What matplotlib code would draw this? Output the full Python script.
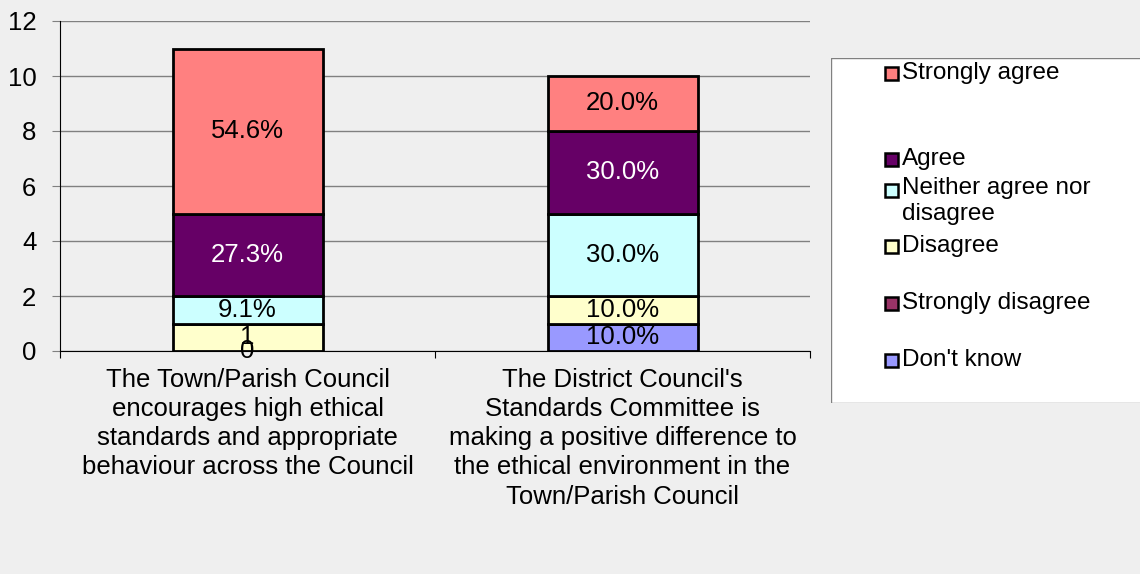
import numpy as np
import matplotlib
matplotlib.use("Agg")
import matplotlib.pyplot as plt
from matplotlib.patches import Rectangle

plt.rcParams['font.family'] = ['Liberation Sans', 'DejaVu Sans']

categories = ["The Town/Parish Council\nencourages high ethical\nstandards and appropriate\nbehaviour across the Council",
              "The District Council's\nStandards Committee is\nmaking a positive difference to\nthe ethical environment in the\nTown/Parish Council"]
# stacked bottom -> top
series = ["Don't know", "Strongly disagree", "Disagree", "Neither agree nor\ndisagree", "Agree", "Strongly agree"]
values = [[0, 1],
          [0, 0],
          [1, 1],
          [1, 3],
          [3, 3],
          [6, 2]]
labels = [["0", "10.0%"],
          ["", ""],
          ["1", "10.0%"],
          ["9.1%", "30.0%"],
          ["27.3%", "30.0%"],
          ["54.6%", "20.0%"]]
colors = ["#9999FF", "#993366", "#FFFFCC", "#CCFFFF", "#660066", "#FF8080"]
text_colors = ["black", "white", "black", "black", "white", "black"]

FS = 18.5
bg = "#EFEFEF"
fig = plt.figure(figsize=(11.4, 5.74), dpi=100, facecolor=bg)
ax = fig.add_axes([60/1140, 1-351/574, 750/1140, 330/574], facecolor=bg)

x = np.arange(len(categories))
bottom = np.zeros(len(categories))
for i, name in enumerate(series):
    v = np.array(values[i], dtype=float)
    ax.bar(x, v, 0.4, bottom=bottom, color=colors[i], edgecolor="black",
           linewidth=2, zorder=3)
    for j in range(len(categories)):
        if labels[i][j]:
            ax.text(x[j], bottom[j] + v[j]/2, labels[i][j], ha="center", va="center",
                    fontsize=FS, color=text_colors[i], zorder=4)
    bottom += v

ax.set_xlim(-0.5, 1.5)
ax.set_ylim(0, 12)
ax.set_yticks(range(0, 13, 2))
ax.yaxis.grid(True, color="#808080", linewidth=1, zorder=0)
ax.tick_params(axis="y", length=6, color="#808080", labelsize=FS, pad=11)
ax.set_xticks([-0.5, 0.5, 1.5])
ax.set_xticklabels([])
ax.tick_params(axis="x", length=5, color="black")
for s in ["top", "right"]:
    ax.spines[s].set_visible(False)
ax.spines["left"].set_color("black")
ax.spines["bottom"].set_color("black")
for j, c in enumerate(categories):
    ax.text(x[j], -0.62, c, ha="center", va="top", fontsize=FS, linespacing=1.27)

# legend box drawn by hand to match spacing
lax = fig.add_axes([831/1140, 1-403/574, 320/1140, 345/574])
lax.set_xlim(0, 320)
lax.set_ylim(345, 0)
lax.axis("off")
lax.add_patch(Rectangle((0, 0), 320, 345, facecolor="white", edgecolor="#808080", linewidth=1))
leg_y = [302, 245, 188, 132, 101, 15]
for i in range(len(series)-1, -1, -1):
    yy = leg_y[i]
    lax.add_patch(Rectangle((54, yy-6.5), 13, 13, facecolor=colors[i], edgecolor="black", linewidth=1.8))
    if "\n" in series[i]:
        lax.text(71, yy - 13, series[i], ha="left", va="top", fontsize=17.5, linespacing=1.25)
    else:
        lax.text(71, yy, series[i], ha="left", va="center", fontsize=17.5)
fig.savefig("out.png", dpi=100, facecolor=bg)
